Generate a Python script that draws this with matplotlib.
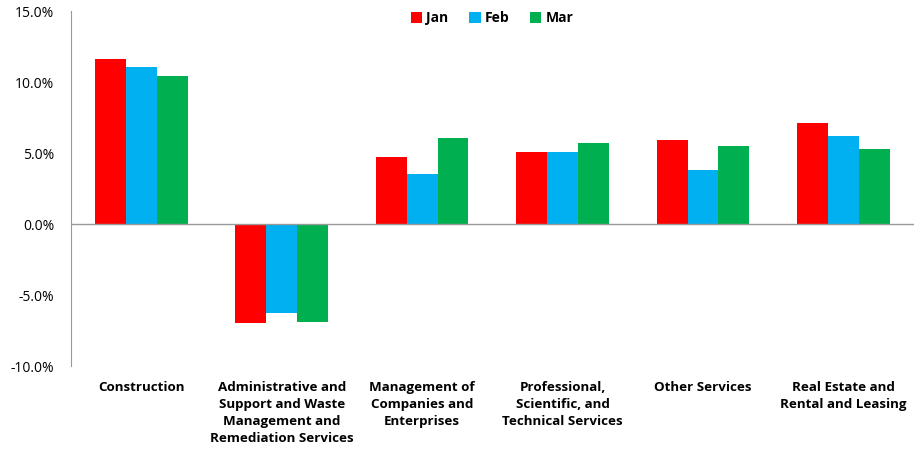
import matplotlib.pyplot as plt
import numpy as np
from matplotlib.ticker import FuncFormatter

# data (percent)
categories = ["Construction",
              "Administrative and\nSupport and Waste\nManagement and\nRemediation Services",
              "Management of\nCompanies and\nEnterprises",
              "Professional,\nScientific, and\nTechnical Services",
              "Other Services",
              "Real Estate and\nRental and Leasing"]
jan = [11.6, -6.95, 4.7, 5.05, 5.9, 7.1]
feb = [11.05, -6.25, 3.5, 5.05, 3.8, 6.2]
mar = [10.4, -6.9, 6.05, 5.7, 5.5, 5.3]

plt.rcParams['font.family'] = ['Open Sans', 'DejaVu Sans']

fig = plt.figure(figsize=(9.24, 4.53), dpi=100)
ax = fig.add_axes([0.0768, 0.192, 0.912, 0.7837])

x = np.arange(len(categories))
w = 0.22
ax.bar(x - w, jan, w, color='#FF0000', label='Jan')
ax.bar(x, feb, w, color='#00B0F0', label='Feb')
ax.bar(x + w, mar, w, color='#00B050', label='Mar')

ax.set_xlim(-0.5, len(categories) - 0.5)
ax.set_ylim(-10, 15)
ax.set_yticks([-10, -5, 0, 5, 10, 15])
ax.yaxis.set_major_formatter(FuncFormatter(lambda v, p: f"{v:.1f}%"))
ax.tick_params(axis='y', length=0, labelsize=10, pad=12)
ax.set_xticks(x)
ax.set_xticklabels(categories, fontweight='bold', fontsize=9.6, linespacing=1.4)
ax.tick_params(axis='x', length=0, pad=11)

for s in ['top', 'right', 'bottom']:
    ax.spines[s].set_visible(False)
ax.spines['left'].set_color('#999999')
ax.axhline(0, color='#999999', lw=1)

leg = ax.legend(loc='upper center', ncol=3, frameon=False, bbox_to_anchor=(0.5, 1.035),
                handlelength=0.8, handleheight=0.8, handletextpad=0.3, columnspacing=1.5,
                prop={'weight': 'bold', 'size': 10})

fig.savefig('out.png', dpi=100)
